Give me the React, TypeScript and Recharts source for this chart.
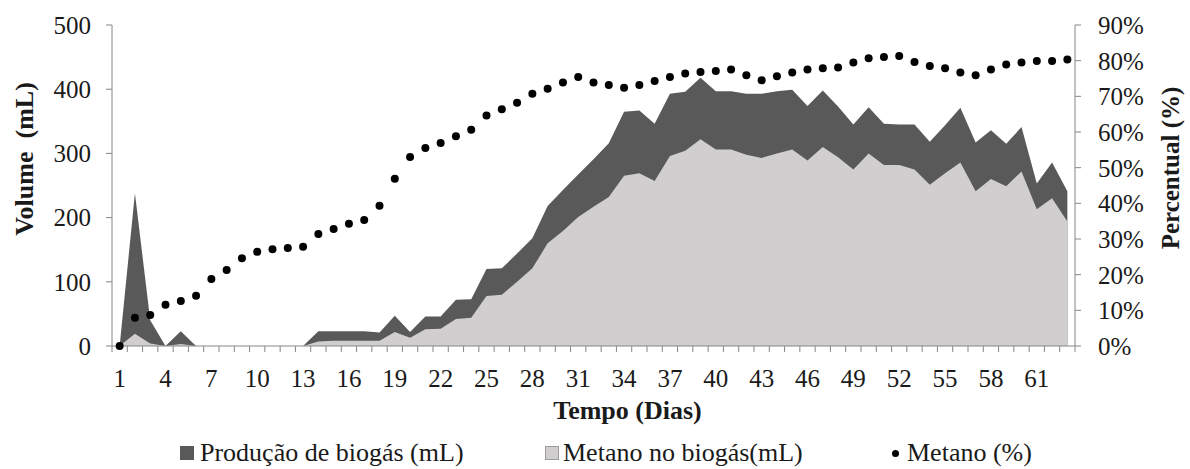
import React from 'react';
import { ComposedChart, Area, Line, XAxis, YAxis, Legend } from 'recharts';

// dias do ensaio
const days = [
  1, 2, 3, 4, 5, 6, 7, 8, 9, 10, 11, 12, 13, 14, 15, 16, 17, 18, 19, 20, 21,
  22, 23, 24, 25, 26, 27, 28, 29, 30, 31, 32, 33, 34, 35, 36, 37, 38, 39, 40, 41, 42,
  43, 44, 45, 46, 47, 48, 49, 50, 51, 52, 53, 54, 55, 56, 57, 58, 59, 60, 61, 62, 63,
];

// Produção de biogás (mL)
const biogas = [
  0, 238, 40, 0, 23, 0, 0, 0, 0, 0, 0, 0, 0, 23, 23, 23, 23, 21, 47, 22, 46,
  46, 72, 73, 120, 121, 144, 168, 218, 243, 267, 291, 316, 365, 367, 346, 393, 396, 418, 397, 397, 393,
  393, 397, 399, 374, 398, 373, 345, 372, 346, 345, 345, 318, 344, 371, 317, 336, 315, 341, 253, 286, 241,
];

// Metano no biogás (mL)
const methaneVolume = [
  0, 19, 4, 0, 3, 0, 0, 0, 0, 0, 0, 0, 0, 7, 8, 8, 8, 8, 22, 13, 26,
  27, 42, 44, 78, 80, 100, 121, 160, 179, 201, 217, 232, 265, 269, 257, 296, 304, 322, 306, 306, 298,
  293, 300, 306, 289, 310, 294, 275, 300, 282, 282, 275, 251, 269, 286, 241, 260, 249, 272, 213, 230, 194,
];

// Metano (%)
const methanePct = [
  0, 7.9, 8.7, 11.6, 12.6, 14.1, 18.8, 21.3, 24.6, 26.4, 27.1, 27.5, 27.8, 31.4, 32.8, 34.3, 35.3, 39.3, 46.9, 53.0, 55.5,
  56.9, 58.8, 60.6, 64.6, 66.4, 68.2, 70.7, 72.1, 73.9, 75.4, 73.9, 73.2, 72.4, 73.2, 74.3, 75.4, 76.4, 76.8, 77.1, 77.5, 75.9,
  74.5, 75.6, 76.7, 77.5, 77.9, 78.1, 79.5, 80.7, 81.0, 81.3, 79.6, 78.5, 77.9, 76.7, 75.9, 77.5, 78.9, 79.5, 79.9, 79.9, 80.3,
];

const dayLabels = [1, 4, 7, 10, 13, 16, 19, 22, 25, 28, 31, 34, 37, 40, 43, 46, 49, 52, 55, 58, 61];
const volumeTicks = [0, 100, 200, 300, 400, 500];
const pctTicks = [0, 10, 20, 30, 40, 50, 60, 70, 80, 90];

const data = days.map((day, i) => ({
  day,
  biogas: biogas[i],
  metano: methaneVolume[i],
  pct: methanePct[i],
}));

// marcas do eixo X ficam entre os dias, como no Excel
const tickMarks = days.map((d) => d - 0.5).concat(days[days.length - 1] + 0.5);
const xTicks = [...tickMarks, ...dayLabels].sort((a, b) => a - b);

const AXIS = '#868686';
const DARK = '#595959';
const LIGHT = '#d0cecf';
const TEXT = '#1a1a1a';
const FONT = 'Liberation Serif, DejaVu Serif, serif';

const DayTick = (props: any) => {
  const { x, y, payload } = props;
  const v = payload.value;
  const axisY = y - 8;
  if (!Number.isInteger(v)) {
    return <line x1={x} x2={x} y1={axisY} y2={axisY + 6} stroke={AXIS} strokeWidth={1} />;
  }
  return (
    <text x={x} y={axisY + 41} textAnchor="middle" fontSize={25} fontFamily={FONT} fill={TEXT}>
      {v}
    </text>
  );
};

const VolumeTitle = (props: any) => {
  const vb = props.viewBox ?? { x: 0, y: 25, width: 112, height: 321 };
  const x = vb.x + 33;
  const y = vb.y + 134;
  return (
    <text x={x} y={y} transform={`rotate(-90, ${x}, ${y})`} textAnchor="middle" fontFamily={FONT}
      fontSize={26} fontWeight="bold" fill={TEXT} style={{ whiteSpace: 'pre' }}>
      {'Volume  (mL)'}
    </text>
  );
};

const PctTitle = (props: any) => {
  const vb = props.viewBox ?? { x: 1075, y: 25, width: 115, height: 321 };
  const x = vb.x + 104;
  const y = vb.y + 143;
  return (
    <text x={x} y={y} transform={`rotate(-90, ${x}, ${y})`} textAnchor="middle" fontFamily={FONT}
      fontSize={25} fontWeight="bold" fill={TEXT}>
      Percentual (%)
    </text>
  );
};

const DaysTitle = (props: any) => {
  const vb = props.viewBox ?? { x: 112, y: 346, width: 963, height: 80 };
  return (
    <text x={vb.x + vb.width / 2 + 34} y={vb.y + 73} textAnchor="middle" fontFamily={FONT}
      fontSize={26} fontWeight="bold" fill={TEXT}>
      Tempo (Dias)
    </text>
  );
};

const legendItems = [
  { label: 'Produção de biogás (mL)', kind: 'square', color: DARK, width: 365 },
  { label: 'Metano no biogás(mL)', kind: 'square', color: LIGHT, width: 347 },
  { label: 'Metano (%)', kind: 'dot', color: '#000', width: 200 },
];

const renderLegend = () => (
  <div style={{ height: 43, display: 'flex', alignItems: 'flex-start', paddingLeft: 180, boxSizing: 'border-box', paddingTop: 14, fontFamily: FONT }}>
    {legendItems.map((it) => (
      <div key={it.label} style={{ width: it.width, display: 'flex', alignItems: 'center', lineHeight: '26px', fontSize: 26, color: TEXT }}>
        {it.kind === 'square' ? (
          <span style={{ width: 14, height: 14, background: it.color, border: it.color === LIGHT ? '1px solid #9a9a9a' : 'none', boxSizing: 'border-box', marginRight: it.color === LIGHT ? 4 : 6 }} />
        ) : (
          <span style={{ width: 7, height: 7, borderRadius: '50%', background: it.color, marginRight: 8 }} />
        )}
        <span>{it.label}</span>
      </div>
    ))}
  </div>
);

const tickStyle = { fontSize: 25, fill: TEXT, fontFamily: FONT };

export default function App() {
  return (
    <div style={{ position: 'absolute', left: 0, top: 0, width: 1190, height: 469, background: '#fff', fontFamily: FONT }}>
      <ComposedChart width={1190} height={469} data={data} margin={{ top: 25, right: 0, bottom: 0, left: 0 }}
        style={{ fontFamily: FONT }}>
        <XAxis
          dataKey="day"
          type="number"
          domain={[0.5, 63.5]}
          ticks={xTicks}
          interval={0}
          tick={<DayTick />}
          tickLine={false}
          axisLine={{ stroke: AXIS }}
          height={80}
          label={<DaysTitle />}
        />
        <YAxis
          yAxisId="vol"
          domain={[0, 500]}
          ticks={volumeTicks}
          width={112}
          tickSize={6}
          tickMargin={15}
          tick={tickStyle}
          tickLine={{ stroke: AXIS }}
          axisLine={{ stroke: AXIS }}
          label={<VolumeTitle />}
        />
        <YAxis
          yAxisId="pct"
          orientation="right"
          domain={[0, 90]}
          ticks={pctTicks}
          width={115}
          tickSize={6}
          tickMargin={17}
          tickFormatter={(v: number) => `${v}%`}
          tick={tickStyle}
          tickLine={{ stroke: AXIS }}
          axisLine={{ stroke: AXIS }}
          label={<PctTitle />}
        />
        <Legend verticalAlign="bottom" content={renderLegend} />
        <Area yAxisId="vol" type="linear" dataKey="biogas" name="Produção de biogás (mL)"
          stroke="none" fill={DARK} fillOpacity={1} isAnimationActive={false} activeDot={false} />
        <Area yAxisId="vol" type="linear" dataKey="metano" name="Metano no biogás(mL)"
          stroke="none" fill={LIGHT} fillOpacity={1} isAnimationActive={false} activeDot={false} />
        <Line yAxisId="pct" type="linear" dataKey="pct" name="Metano (%)" stroke="none"
          dot={{ r: 4, fill: '#000', stroke: 'none' }} activeDot={false} isAnimationActive={false} />
      </ComposedChart>
    </div>
  );
}
